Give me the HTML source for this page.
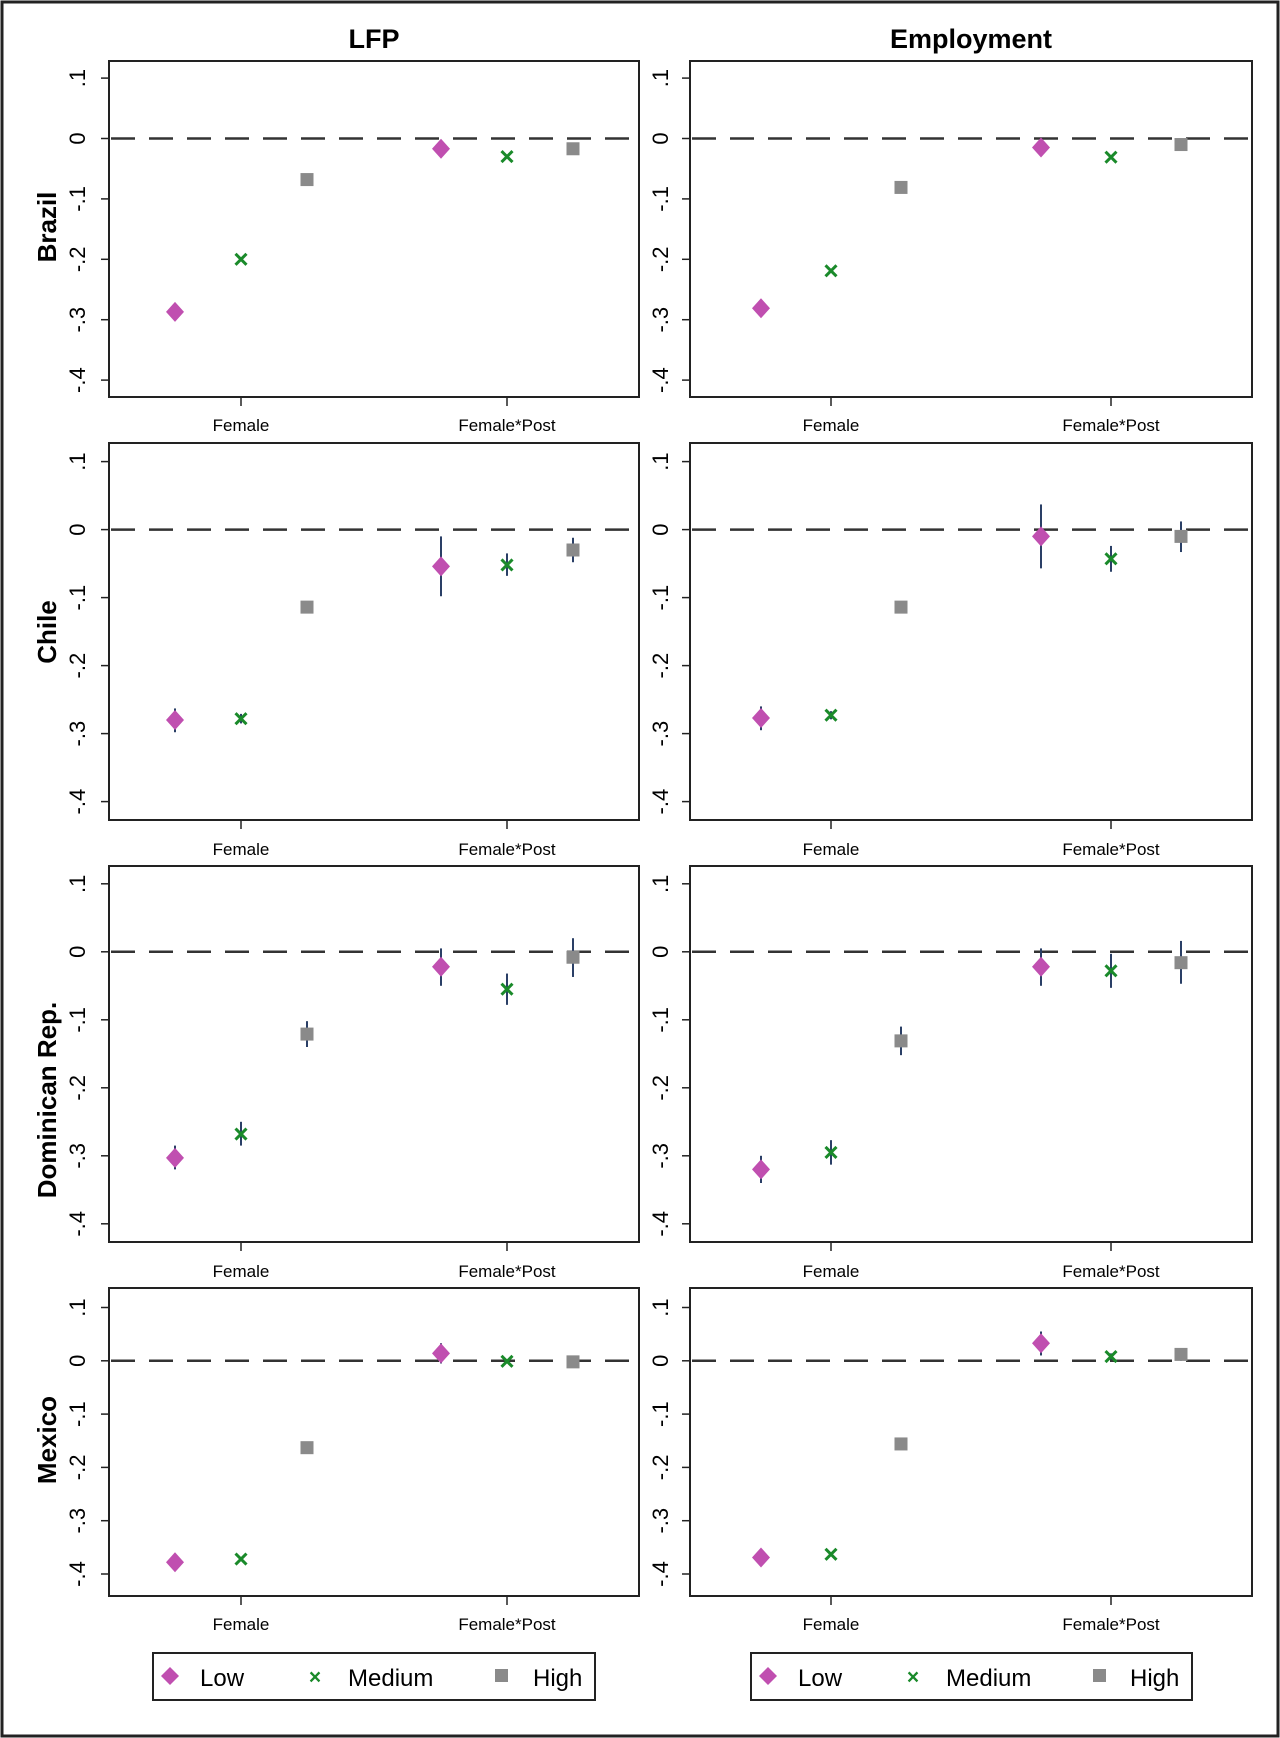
<!DOCTYPE html>
<html><head><meta charset="utf-8">
<style>
html,body{margin:0;padding:0;background:#fff;}
svg{display:block;font-family:"Liberation Sans",Arial,sans-serif;}
</style></head>
<body>
<svg id="chart" width="1280" height="1738" viewBox="0 0 1280 1738" xmlns="http://www.w3.org/2000/svg">
<rect x="2" y="2" width="1276" height="1734" fill="#fff" stroke="#222" stroke-width="3"/>
<text x="374" y="48" font-size="27" font-weight="bold" text-anchor="middle">LFP</text>
<text x="971" y="48" font-size="27" font-weight="bold" text-anchor="middle">Employment</text>
<g id="panels"></g>
<g>
<rect x="153" y="1653" width="442" height="47" fill="#fff" stroke="#222" stroke-width="2"/>
<path d="M170 1667 L179 1676 L170 1685 L161 1676 Z" fill="#c04fb0"/>
<text x="200" y="1686" font-size="24">Low</text>
<text x="315" y="1684" font-size="21" fill="#1a8a2a" text-anchor="middle" font-weight="bold">×</text>
<text x="348" y="1686" font-size="24">Medium</text>
<rect x="495" y="1669" width="13" height="13" fill="#8a8a8a"/>
<text x="533" y="1686" font-size="24">High</text>
</g>
<g>
<rect x="751" y="1653" width="441" height="47" fill="#fff" stroke="#222" stroke-width="2"/>
<path d="M768 1667 L777 1676 L768 1685 L759 1676 Z" fill="#c04fb0"/>
<text x="798" y="1686" font-size="24">Low</text>
<text x="913" y="1684" font-size="21" fill="#1a8a2a" text-anchor="middle" font-weight="bold">×</text>
<text x="946" y="1686" font-size="24">Medium</text>
<rect x="1093" y="1669" width="13" height="13" fill="#8a8a8a"/>
<text x="1130" y="1686" font-size="24">High</text>
</g>
</svg>
<script>
const countries = ["Brazil","Chile","Dominican Rep.","Mexico"];
const outcomes = ["LFP","Employment"];
const categories = ["Female","Female*Post"];
const groups = ["Low","Medium","High"];
const yTicks = [0.1,0,-0.1,-0.2,-0.3,-0.4];
const yTickLabels = [".1","0","-.1","-.2","-.3","-.4"];
// estimates: [Female L,M,H, Post L,M,H]
const estBrazilLFP = [-0.287,-0.200,-0.068,-0.017,-0.030,-0.017];
const estBrazilEmp = [-0.281,-0.219,-0.081,-0.015,-0.031,-0.010];
const estChileLFP = [-0.280,-0.278,-0.114,-0.054,-0.052,-0.030];
const estChileEmp = [-0.277,-0.273,-0.114,-0.010,-0.043,-0.010];
const estDomLFP = [-0.303,-0.268,-0.121,-0.022,-0.055,-0.008];
const estDomEmp = [-0.320,-0.295,-0.131,-0.022,-0.028,-0.016];
const estMexLFP = [-0.378,-0.372,-0.163,0.014,-0.001,-0.002];
const estMexEmp = [-0.369,-0.363,-0.156,0.033,0.008,0.012];
const loBrazilLFP = [-0.290,-0.203,-0.071,-0.020,-0.033,-0.020];
const hiBrazilLFP = [-0.284,-0.197,-0.065,-0.014,-0.027,-0.014];
const loBrazilEmp = [-0.284,-0.222,-0.084,-0.018,-0.034,-0.013];
const hiBrazilEmp = [-0.278,-0.216,-0.078,-0.012,-0.028,-0.007];
const loChileLFP = [-0.298,-0.285,-0.118,-0.098,-0.068,-0.048];
const hiChileLFP = [-0.263,-0.271,-0.110,-0.010,-0.035,-0.012];
const loChileEmp = [-0.295,-0.279,-0.118,-0.057,-0.062,-0.033];
const hiChileEmp = [-0.260,-0.267,-0.110,0.037,-0.024,0.012];
const loDomLFP = [-0.320,-0.285,-0.140,-0.050,-0.078,-0.037];
const hiDomLFP = [-0.285,-0.250,-0.102,0.005,-0.032,0.020];
const loDomEmp = [-0.340,-0.313,-0.152,-0.050,-0.053,-0.047];
const hiDomEmp = [-0.300,-0.277,-0.110,0.005,-0.003,0.016];
const loMexLFP = [-0.381,-0.375,-0.166,-0.005,-0.004,-0.006];
const hiMexLFP = [-0.375,-0.369,-0.160,0.033,0.002,0.002];
const loMexEmp = [-0.372,-0.366,-0.159,0.010,0.002,0.000];
const hiMexEmp = [-0.366,-0.360,-0.153,0.055,0.014,0.022];

const EST = [[estBrazilLFP,estBrazilEmp],[estChileLFP,estChileEmp],[estDomLFP,estDomEmp],[estMexLFP,estMexEmp]];
const LO = [[loBrazilLFP,loBrazilEmp],[loChileLFP,loChileEmp],[loDomLFP,loDomEmp],[loMexLFP,loMexEmp]];
const HI = [[hiBrazilLFP,hiBrazilEmp],[hiChileLFP,hiChileEmp],[hiDomLFP,hiDomEmp],[hiMexLFP,hiMexEmp]];

const rows=[{top:61,bot:397,y0:138.5,step:60.4,lab:425,name:227},
            {top:443,bot:820,y0:529.6,step:68,lab:849,name:632},
            {top:866,bot:1242,y0:951.8,step:68,lab:1271,name:1100},
            {top:1288,bot:1596,y0:1360.8,step:53.3,lab:1624,name:1440}];
const cols=[{l:109,r:639,c:[241,507],off:66,tx:78},{l:690,r:1252,c:[831,1111],off:70,tx:661}];
const NS="http://www.w3.org/2000/svg";
const root=document.getElementById('panels');
function mk(tag,attrs,parent){const e=document.createElementNS(NS,tag);for(const k in attrs)e.setAttribute(k,attrs[k]);(parent||root).appendChild(e);return e;}

rows.forEach((R,ri)=>{
  const yS=v=>R.y0 - v*10*R.step;
  const t=mk('text',{x:47,y:R.name,'font-size':26,'font-weight':'bold','text-anchor':'middle',transform:`rotate(-90 47 ${R.name})`,dy:9});
  t.textContent=countries[ri];
  
  
  cols.forEach((C,ci)=>{
    const g=mk('g',{});
    
    
    const box=mk('rect',{x:C.l,y:R.top,width:C.r-C.l,height:R.bot-R.top,fill:'#fff',stroke:'#222','stroke-width':2},g);
    
    
    yTicks.forEach((v,i)=>{
      const y=yS(v);
      const tk=mk('line',{x1:C.l-8,x2:C.l,y1:y,y2:y,stroke:'#222','stroke-width':1.5},g);
      
      
      const tl=mk('text',{x:C.tx,y:y,'font-size':22,'text-anchor':'middle',transform:`rotate(-90 ${C.tx} ${y})`,dy:7},g);
      tl.textContent=yTickLabels[i];
      
      
    });
    const zl=mk('line',{x1:C.l+2,x2:C.r-2,y1:yS(0),y2:yS(0),stroke:'#333','stroke-width':2.5,'stroke-dasharray':'24 14'},g);
    
    
    categories.forEach((cat,k)=>{
      const x=C.c[k];
      const tk=mk('line',{x1:x,x2:x,y1:R.bot,y2:R.bot+9,stroke:'#222','stroke-width':1.5},g);
      
      
      const tl=mk('text',{x:x,y:R.lab+6,'font-size':17,'text-anchor':'middle'},g);
      tl.textContent=cat;
      
      
      groups.forEach((gr,j)=>{
        const idx=k*3+j;
        const px=x+(j-1)*C.off;
        const py=yS(EST[ri][ci][idx]);
        const ci_=mk('line',{x1:px,x2:px,y1:yS(LO[ri][ci][idx]),y2:yS(HI[ri][ci][idx]),stroke:'#2a3f66','stroke-width':2},g);
        
        
        let m;
        if(j===0){m=mk('path',{d:`M${px} ${py-10} L${px+9} ${py} L${px} ${py+10} L${px-9} ${py} Z`,fill:'#c04fb0'},g);}
        else if(j===1){m=mk('path',{d:`M${px-5.5} ${py-5.5} L${px+5.5} ${py+5.5} M${px+5.5} ${py-5.5} L${px-5.5} ${py+5.5}`,stroke:'#1a8a2a','stroke-width':3},g);}
        else {m=mk('rect',{x:px-6.5,y:py-6.5,width:13,height:13,fill:'#8a8a8a'},g);}
        
        
      });
    });
  });
});
</script>
</body></html>
